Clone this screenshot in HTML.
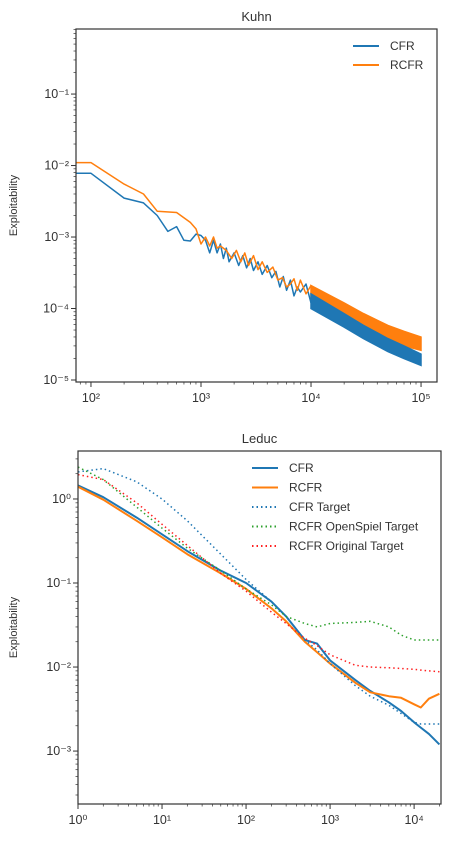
<!DOCTYPE html>
<html><head><meta charset="utf-8"><style>
body{margin:0;background:#fff;font-family:"Liberation Sans",sans-serif}
svg text{font-family:"Liberation Sans",sans-serif;fill:#333}
</style></head><body>
<svg id="s" width="471" height="850" xmlns="http://www.w3.org/2000/svg"></svg>
<script>
// ---- Kuhn data ----
const kuhnCfrX=[73,100,200,300,400,500,600,700,800,900,1000,1100,1200,1300,1400,1500,1600,1700,1800,2000,2200,2400,2600,2800,3000,3300,3600,4000,4400,4800,5200,5600,6000,6500,7000,7500,8000,9000,10000];
const kuhnCfrY=[0.0078,0.0078,0.0035,0.003,0.002,0.0012,0.0014,0.0009,0.00088,0.0011,0.00105,0.0009,0.0006,0.0009,0.0006,0.0008,0.0005,0.0007,0.00045,0.0006,0.0004,0.00055,0.00037,0.0005,0.00034,0.00045,0.0003,0.0004,0.00027,0.00033,0.0002,0.00028,0.00018,0.00025,0.00015,0.0002,0.00017,0.00022,0.00012];
const kuhnRcfrX=[73,100,200,300,400,600,800,900,1000,1100,1200,1300,1400,1500,1700,1900,2100,2300,2500,2700,3000,3300,3600,4000,4500,5000,5500,6000,6500,7000,7500,8000,9000,10000];
const kuhnRcfrY=[0.011,0.011,0.0055,0.004,0.0023,0.0022,0.0016,0.0013,0.0008,0.001,0.00075,0.001,0.0007,0.00075,0.00065,0.0005,0.00065,0.00045,0.0006,0.0004,0.00055,0.00035,0.00045,0.00032,0.00038,0.00025,0.00027,0.0002,0.00022,0.00026,0.00018,0.00025,0.00016,0.00021];
// dense oscillation band (envelope) for 1e4..1e5
const kuhnBandX=[10000,20000,30000,50000,70000,100000];
const kuhnCfrUpper=[0.00016,0.000085,0.000058,0.000038,0.00003,0.000023];
const kuhnCfrLower=[0.0001,0.000055,0.000038,0.000025,0.00002,0.000016];
const kuhnRcfrUpper=[0.00021,0.00012,0.000085,0.000058,0.000048,0.00004];
const kuhnRcfrLower=[0.00013,0.000075,0.000053,0.000037,0.00003,0.000026];
// ---- Leduc data ----
const leducX=[1,2,5,10,20,50,100,200,300,500,700,1000,2000,3000,5000,7000,10000,12000,15000,20000];
const leducCfr=[1.45,1.05,0.6,0.38,0.24,0.14,0.1,0.06,0.04,0.021,0.019,0.012,0.007,0.0052,0.0038,0.003,0.0022,0.0019,0.0016,0.0012];
const leducRcfr=[1.4,0.98,0.55,0.35,0.22,0.13,0.085,0.05,0.035,0.02,0.015,0.011,0.0065,0.005,0.0045,0.0043,0.0036,0.0033,0.0042,0.0048];
const leducCfrT=[2.1,2.3,1.6,1.0,0.55,0.22,0.11,0.06,0.04,0.021,0.016,0.011,0.006,0.0045,0.0035,0.0028,0.0022,0.0021,0.0021,0.0021];
const leducOsT=[2.4,1.7,0.8,0.45,0.26,0.14,0.085,0.055,0.04,0.033,0.03,0.033,0.034,0.035,0.03,0.024,0.021,0.021,0.021,0.021];
const leducOrT=[1.95,1.7,0.9,0.5,0.28,0.13,0.08,0.045,0.033,0.022,0.018,0.014,0.0105,0.01,0.0098,0.0096,0.0094,0.0092,0.009,0.0088];
const kuhnXTicks=["10²","10³","10⁴","10⁵"];
const kuhnYTicks=["10⁻¹","10⁻²","10⁻³","10⁻⁴","10⁻⁵"];
const leducXTicks=["10⁰","10¹","10²","10³","10⁴"];
const leducYTicks=["10⁰","10⁻¹","10⁻²","10⁻³"];

const S=document.getElementById('s');const NS='http://www.w3.org/2000/svg';
function mk(t,a,p){const e=document.createElementNS(NS,t);for(const k in a)e.setAttribute(k,a[k]);(p||S).appendChild(e);return e;}
function axes(o){
  const g=mk('g',{});
  
  
  const X=v=>o.l+(Math.log10(v)-o.x0)/(o.x1-o.x0)*(o.r-o.l);
  const Y=v=>o.b-(Math.log10(v)-o.y0)/(o.y1-o.y0)*(o.b-o.t);
  for(let d=Math.floor(o.x0);d<=Math.ceil(o.x1);d++)for(let m=1;m<10;m++){const v=m*Math.pow(10,d);const lv=Math.log10(v);if(lv<o.x0-1e-9||lv>o.x1+1e-9)continue;const x=X(v);mk('line',{x1:x,x2:x,y1:o.b,y2:o.b+(m==1?5:2.5),stroke:'#333','stroke-width':m==1?1:0.7},g);}
  for(let d=Math.floor(o.y0);d<=Math.ceil(o.y1);d++)for(let m=1;m<10;m++){const v=m*Math.pow(10,d);const lv=Math.log10(v);if(lv<o.y0-1e-9||lv>o.y1+1e-9)continue;const y=Y(v);mk('line',{x1:o.l,x2:o.l-(m==1?5:2.5),y1:y,y2:y,stroke:'#333','stroke-width':m==1?1:0.7},g);}
  o.xt.forEach((s,i)=>{const t=mk('text',{x:X(Math.pow(10,o.xd+i)),y:o.b+20,'text-anchor':'middle','font-size':12.5},g);t.textContent=s;});
  o.yt.forEach((s,i)=>{const t=mk('text',{x:o.l-7,y:Y(Math.pow(10,o.yd-i))+4,'text-anchor':'end','font-size':12.5},g);t.textContent=s;});
  const cp=mk('clipPath',{id:o.clip},g);mk('rect',{x:o.l,y:o.t,width:o.r-o.l,height:o.b-o.t},cp);
  (o.bands||[]).forEach(b=>{const up=b.x.map((v,i)=>X(v).toFixed(1)+','+Y(b.u[i]).toFixed(1));const lo=b.x.map((v,i)=>X(v).toFixed(1)+','+Y(b.lw[i]).toFixed(1)).reverse();const p=mk('polygon',{points:up.concat(lo).join(' '),fill:b.c,stroke:b.c,'stroke-width':1.5,'clip-path':'url(#'+o.clip+')'},g);});
  o.series.forEach(s=>{const pts=s.x.map((v,i)=>X(v).toFixed(1)+','+Y(s.y[i]).toFixed(1)).join(' ');const p=mk('polyline',{points:pts,fill:'none',stroke:s.c,'stroke-width':s.w||1.5,'stroke-dasharray':s.dot?'1.5,3':'none','stroke-linejoin':'round','clip-path':'url(#'+o.clip+')'},g);});
  const f=mk('rect',{x:o.l,y:o.t,width:o.r-o.l,height:o.b-o.t,fill:'none',stroke:'#333','stroke-width':1.2},g);
  const tt=mk('text',{x:(o.l+o.r)/2,y:o.t-8,'text-anchor':'middle','font-size':13},g);tt.textContent=o.title;
  const yl=mk('text',{x:0,y:0,'text-anchor':'middle','font-size':11,transform:'translate(17,'+((o.t+o.b)/2)+') rotate(-90)'},g);yl.textContent='Exploitability';
  o.series.forEach((s,i)=>{const y=o.ly+i*o.lh;const l=mk('line',{x1:o.lx,x2:o.lx+26,y1:y,y2:y,stroke:s.c,'stroke-width':2,'stroke-dasharray':s.dot?'1.5,3':'none'},g);const t=mk('text',{x:o.lx+37,y:y+4,'font-size':12},g);t.textContent=s.label;});
}
axes({name:'kuhn-chart',clip:'c1',title:'Kuhn',l:76,r:437,t:29,b:382,x0:1.864,x1:5.145,y0:-5.028,y1:-0.09,xd:2,yd:-1,xt:kuhnXTicks,yt:kuhnYTicks,lx:353,ly:46,lh:19,
 bands:[{name:'kuhn-rcfr-band',x:kuhnBandX,u:kuhnRcfrUpper,lw:kuhnRcfrLower,c:'#ff7f0e'},{name:'kuhn-cfr-band',x:kuhnBandX,u:kuhnCfrUpper,lw:kuhnCfrLower,c:'#1f77b4'}],
 series:[{name:'kuhn-cfr-line',label:'CFR',x:kuhnCfrX,y:kuhnCfrY,c:'#1f77b4'},{name:'kuhn-rcfr-line',label:'RCFR',x:kuhnRcfrX,y:kuhnRcfrY,c:'#ff7f0e'}]});
axes({name:'leduc-chart',clip:'c2',title:'Leduc',l:78,r:441,t:451,b:804,x0:0,x1:4.32,y0:-3.63,y1:0.571,xd:0,yd:0,xt:leducXTicks,yt:leducYTicks,lx:252,ly:468,lh:19.5,
 series:[{name:'leduc-cfr-line',label:'CFR',x:leducX,y:leducCfr,c:'#1f77b4',w:2},{name:'leduc-rcfr-line',label:'RCFR',x:leducX,y:leducRcfr,c:'#ff7f0e',w:2},
 {name:'leduc-cfr-target-line',label:'CFR Target',x:leducX,y:leducCfrT,c:'#1f77b4',dot:1},{name:'leduc-rcfr-openspiel-line',label:'RCFR OpenSpiel Target',x:leducX,y:leducOsT,c:'#2ca02c',dot:1},{name:'leduc-rcfr-original-line',label:'RCFR Original Target',x:leducX,y:leducOrT,c:'#ff2020',dot:1}]});
</script>
</body></html>
